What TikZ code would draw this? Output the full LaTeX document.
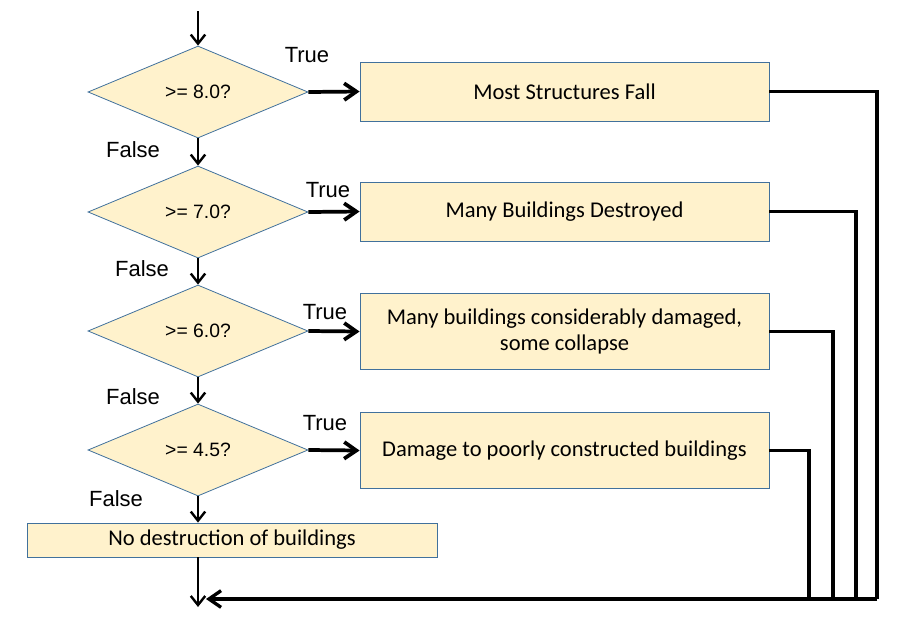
\documentclass[tikz,border=0pt]{standalone}
\usepackage{fontspec}
\setmainfont{Liberation Sans}
\newfontfamily\boxfont{Carlito}
\usepackage{tikz}
\usetikzlibrary{arrows.meta,shapes.geometric}
\definecolor{Cream}{HTML}{FFF2CC}
\definecolor{Edge}{HTML}{41719C}

\begin{document}
\begin{tikzpicture}[x=0.75pt,y=-0.75pt,>={Straight Barb[length=3.2mm,width=4.4mm]},
  decision/.style={diamond,draw=Edge,fill=Cream,line width=0.6pt,minimum width=165pt,
    minimum height=69pt,inner sep=0pt,font=\fontsize{14.5}{16}\selectfont},
  outcome/.style={rectangle,draw=Edge,fill=Cream,line width=0.6pt,minimum width=306.75pt,
    minimum height=44.25pt,inner sep=0pt,align=center,font=\boxfont\fontsize{16.9}{20}\selectfont},
  branch/.style={font=\fontsize{16.5}{18}\selectfont},
  down/.style={-{Straight Barb[length=2.4mm,width=3.8mm]},line width=1.8pt},
  yes/.style={->,line width=2.8pt},
  back/.style={line width=2.5pt}]
  \useasboundingbox (0,0) rectangle (901,619);
  % the four tests
  \node[decision] (d1) at (198,92) {>= 8.0?};
  \node[decision] (d2) at (198,212) {>= 7.0?};
  \node[decision] (d3) at (198,331) {>= 6.0?};
  \node[decision] (d4) at (198,450) {>= 4.5?};
  % outcomes
  \node[outcome] (o1) at (564.5,91.5) {Most Structures Fall};
  \node[outcome] (o2) at (564.5,211.5) {Many Buildings Destroyed};
  \node[outcome,minimum height=57pt] (o3) at (564.5,331.5) {Many buildings considerably damaged,\\some collapse};
  \node[outcome,minimum height=57pt] (o4) at (564.5,450.5) {Damage to poorly constructed buildings};
  \node[outcome,minimum width=307.5pt,minimum height=25.5pt] (o5) at (232,540) {No destruction of buildings};
  % branch labels
  \node[branch] (t1) at (307,55) {True};
  \node[branch] (t2) at (328,190) {True};
  \node[branch] (t3) at (325,312) {True};
  \node[branch] (t4) at (325,423) {True};
  \node[branch] (f1) at (133,150) {False};
  \node[branch] (f2) at (142,269) {False};
  \node[branch] (f3) at (133,397) {False};
  \node[branch] (f4) at (116,499) {False};
  \coordinate (entry) at (198,11);
  \coordinate (exit) at (198,607);
  \coordinate (join) at (206,599);
  \coordinate (r1) at (877,599);
  \coordinate (r2) at (856,599);
  \coordinate (r3) at (833,599);
  \coordinate (r4) at (809,599);
  \draw[down] (entry) -- (d1.north);
  \draw[down] (d1.south) -- (d2.north);
  \draw[down] (d2.south) -- (d3.north);
  \draw[down] (d3.south) -- (d4.north);
  \draw[down] (d4.south) -- (d4.south |- o5.north);
  \draw[down] (exit |- o5.south) -- (exit);
  \draw[yes] (d1.east) -- (o1.west);
  \draw[yes] (d2.east) -- (o2.west);
  \draw[yes] (d3.east) -- (o3.west);
  \draw[yes] (d4.east) -- (o4.west);
  \draw[back] (o1.east) -| (r1);
  \draw[back] (o2.east) -| (r2);
  \draw[back] (o3.east) -| (r3);
  \draw[back] (o4.east) -| (r4);
  \draw[back,->] (r1) -- (join);
\end{tikzpicture}
\end{document}
